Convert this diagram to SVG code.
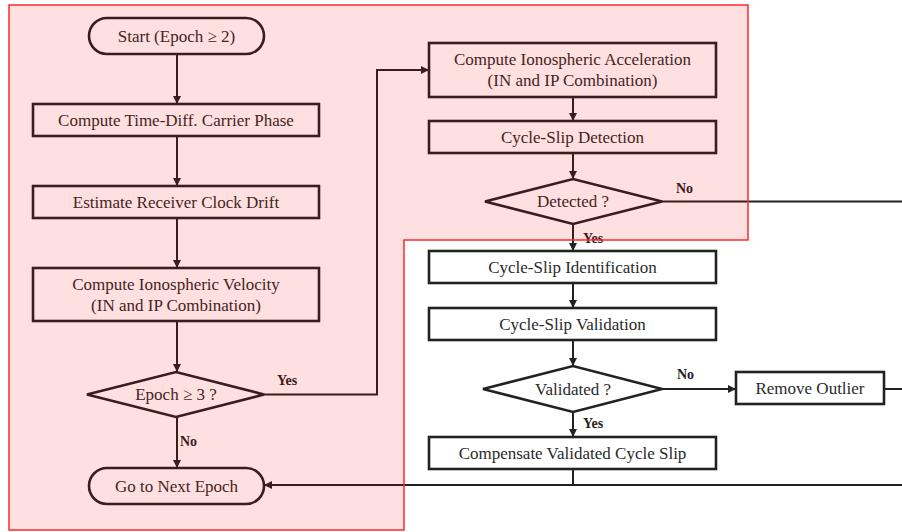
<svg xmlns="http://www.w3.org/2000/svg" width="902" height="532" viewBox="0 0 902 532">
<defs>
<style>
.box{fill:#fff;stroke:#222;stroke-width:2.6}
.t{font-family:"Liberation Serif","Times New Roman",serif;font-size:17px;fill:#2a2a2a;text-anchor:middle}
.lbl{font-family:"Liberation Serif","Times New Roman",serif;font-size:14px;font-weight:bold;fill:#222}
.c{fill:none;stroke:#222;stroke-width:2}
.ca{fill:none;stroke:#222;stroke-width:2;marker-end:url(#ah)}
</style>
<marker id="ah" markerUnits="userSpaceOnUse" markerWidth="10" markerHeight="10" refX="8" refY="4" orient="auto">
<path d="M0,0 L8,4 L0,8 z" fill="#222"/>
</marker>
</defs>
<rect width="902" height="532" fill="#fff"/>
<g id="start"><rect class="box" x="89" y="18" width="175" height="36" rx="18"/><text class="t" x="176.5" y="42">Start (Epoch ≥ 2)</text></g>
<g id="timediff"><rect class="box" x="33" y="104" width="286" height="32"/><text class="t" x="176" y="126">Compute Time-Diff.  Carrier Phase</text></g>
<g id="clock"><rect class="box" x="33" y="186" width="286" height="32"/><text class="t" x="176" y="208">Estimate Receiver Clock Drift</text></g>
<g id="velocity"><rect class="box" x="33" y="268" width="286" height="53"/><text class="t" x="176" y="290">Compute Ionospheric Velocity</text><text class="t" x="176" y="311">(IN and IP Combination)</text></g>
<g id="epoch3"><polygon class="box" points="87,394.5 176,372 264,394.5 176,417"/><text class="t" x="176" y="400">Epoch ≥ 3 ?</text></g>
<g id="next"><rect class="box" x="89" y="468" width="175" height="36" rx="18"/><text class="t" x="176.5" y="492">Go to Next Epoch</text></g>
<g id="accel"><rect class="box" x="429" y="43" width="287" height="54"/><text class="t" x="572.5" y="65">Compute Ionospheric Acceleration</text><text class="t" x="572.5" y="86">(IN and IP Combination)</text></g>
<g id="detection"><rect class="box" x="429" y="121" width="287" height="32"/><text class="t" x="572.5" y="143">Cycle-Slip  Detection</text></g>
<g id="detected"><polygon class="box" points="485,201.5 573,179 662,201.5 573,224"/><text class="t" x="573" y="207">Detected ?</text></g>
<g id="identification"><rect class="box" x="429" y="251" width="287" height="32"/><text class="t" x="572.5" y="273">Cycle-Slip  Identification</text></g>
<g id="validation"><rect class="box" x="429" y="308" width="287" height="32"/><text class="t" x="572.5" y="330">Cycle-Slip  Validation</text></g>
<g id="validated"><polygon class="box" points="483,389 573,366 662,389 573,412"/><text class="t" x="573" y="395">Validated ?</text></g>
<g id="outlier"><rect class="box" x="736" y="372" width="148" height="32"/><text class="t" x="810" y="394">Remove Outlier</text></g>
<g id="compensate"><rect class="box" x="429" y="437" width="287" height="32"/><text class="t" x="572.5" y="459">Compensate Validated  Cycle Slip</text></g>
<g id="connectors">
<path class="ca" d="M177,54 V104"/>
<path class="ca" d="M177,136 V186"/>
<path class="ca" d="M177,218 V268"/>
<path class="ca" d="M177,321 V372"/>
<path class="ca" d="M177,417 V468"/>
<path class="ca" d="M264,394.5 H377 V70 H429"/>
<path class="ca" d="M573,97 V121"/>
<path class="ca" d="M573,153 V179"/>
<path class="ca" d="M573,224 V251"/>
<path class="c" d="M662,201.5 H902" stroke="#444"/>
<path class="ca" d="M573,283 V308"/>
<path class="ca" d="M573,340 V366"/>
<path class="ca" d="M662,389 H736"/>
<path class="c" d="M884,389 H902"/>
<path class="ca" d="M573,412 V437"/>
<path class="c" d="M573,469 V485"/>
<path class="ca" d="M902,485 H264"/>
<text class="lbl" x="277" y="385">Yes</text>
<text class="lbl" x="180" y="446">No</text>
<text class="lbl" x="676" y="193">No</text>
<text class="lbl" x="583" y="243">Yes</text>
<text class="lbl" x="677" y="379">No</text>
<text class="lbl" x="583" y="428">Yes</text>
</g>
<path id="region" d="M9,5 H748 V240 H404 V530 H9 Z" fill="#ff0000" fill-opacity="0.12" stroke="#ff2a2a" stroke-width="1.5"/>
</svg>
